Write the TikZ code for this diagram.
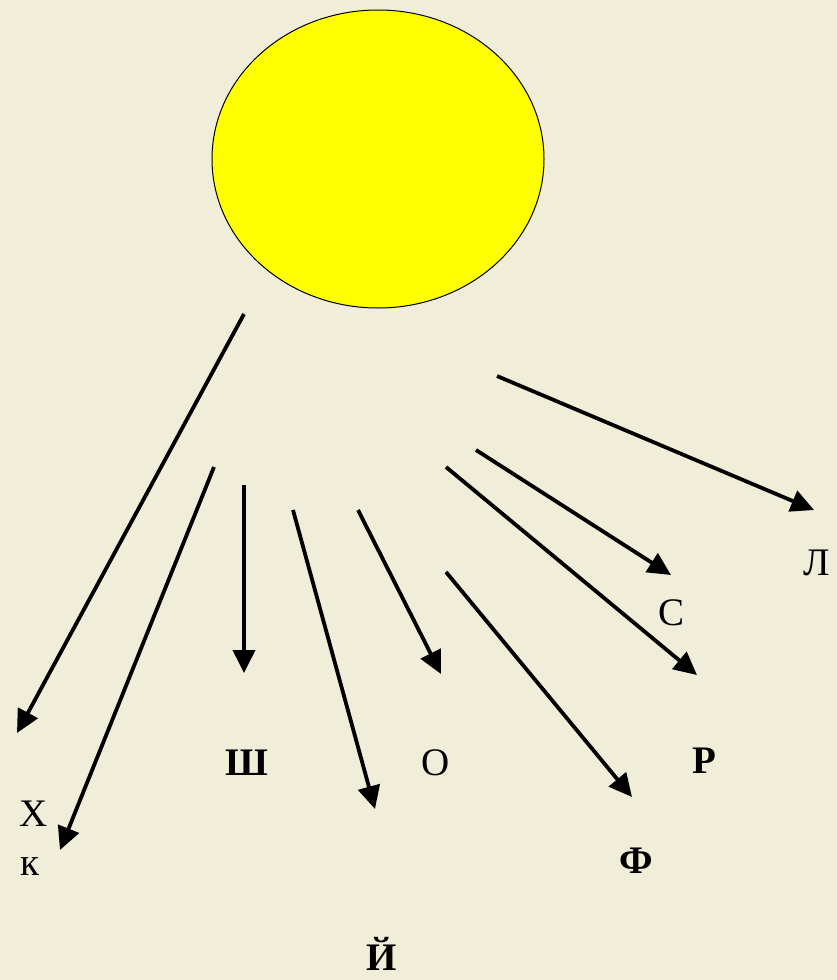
\documentclass[tikz,border=0pt]{standalone}
\usepackage{fontspec}
\setmainfont{Liberation Serif}
\usetikzlibrary{arrows.meta,shapes.geometric}
\definecolor{bgbeige}{RGB}{240,237,216}
\definecolor{sunyellow}{RGB}{255,255,0}
\tikzset{
  ray/.style={line width=3.8pt,-{Triangle[length=23pt,width=22pt]}},
  lbl/.style={font=\fontsize{39}{42}\selectfont,anchor=base,inner sep=0pt},
  lblb/.style={lbl,font=\fontsize{39}{42}\selectfont\bfseries},
}
\begin{document}
\begin{tikzpicture}[x=1pt,y=-1pt]
\fill[bgbeige] (0,0) rectangle (837,980);
\useasboundingbox (0,0) rectangle (837,980);
\node[ellipse,draw=black,line width=1pt,fill=sunyellow,minimum width=332pt,minimum height=298pt,inner sep=0pt] (sun) at (378,159) {};
% ray coordinates
\coordinate (s1) at (244,314); \coordinate (e1) at (17,733);
\coordinate (s2) at (214,467); \coordinate (e2) at (60,850);
\coordinate (s3) at (244,485); \coordinate (e3) at (244,673);
\coordinate (s4) at (293,510); \coordinate (e4) at (375,809);
\coordinate (s5) at (358,510); \coordinate (e5) at (441,674);
\coordinate (s6) at (446,572); \coordinate (e6) at (632,797);
\coordinate (s7) at (446,467); \coordinate (e7) at (697,675);
\coordinate (s8) at (476,450); \coordinate (e8) at (671,575);
\coordinate (s9) at (497,376); \coordinate (e9) at (814,510);
\foreach \i in {1,...,9} \draw[ray] (s\i) -- (e\i);
% labels (base-line positions)
\node[lbl] (lx) at (34,826) {Х};
\node[lbl] (lk) at (30,875) {к};
\node[lblb] (lsh) at (247,775) {Ш};
\node[lblb] (ly) at (382,970) {Й};
\node[lbl] (lo) at (436,775) {О};
\node[lblb] (lf) at (636,873) {Ф};
\node[lblb] (lr) at (704,773) {Р};
\node[lbl] (ls) at (671,625) {С};
\node[lbl] (ll) at (817,575) {Л};
\end{tikzpicture}
\end{document}
